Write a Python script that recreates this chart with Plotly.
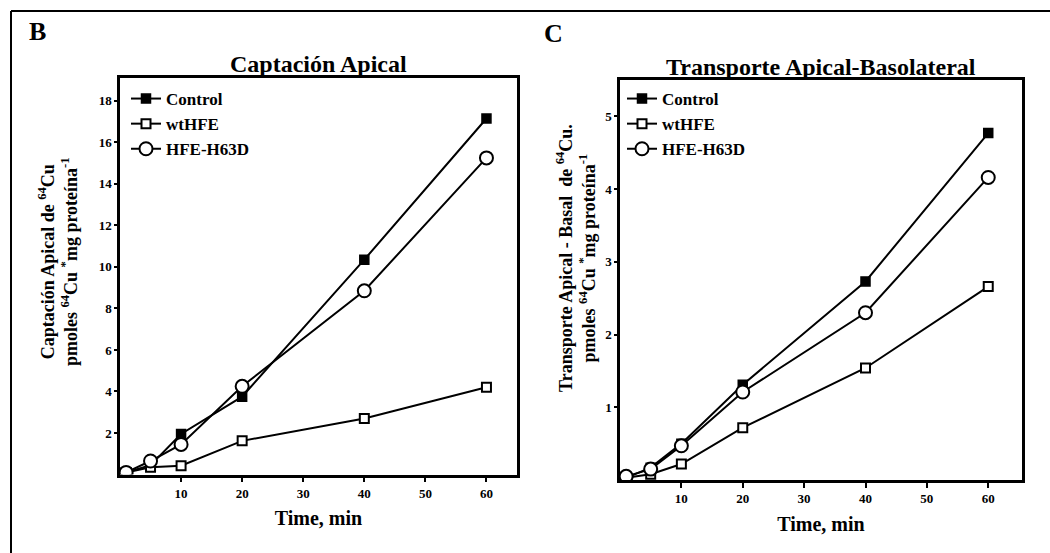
import plotly.graph_objects as go

W, H = 1050, 553
FONT = "Liberation Serif, Times New Roman, serif"

# ---- data ----
times = [1, 5, 10, 20, 40, 60]
series_names = ["Control", "wtHFE", "HFE-H63D"]

control_b = [0.1, 0.45, 1.95, 3.75, 10.35, 17.15]
wthfe_b = [0.1, 0.35, 0.42, 1.62, 2.7, 4.2]
h63d_b = [0.1, 0.65, 1.45, 4.25, 8.85, 15.25]

control_c = [0.03, 0.17, 0.5, 1.31, 2.73, 4.77]
wthfe_c = [0.03, 0.08, 0.22, 0.72, 1.54, 2.66]
h63d_c = [0.05, 0.15, 0.47, 1.21, 2.3, 4.16]

x_ticks = [10, 20, 30, 40, 50, 60]
y_ticks_b = [2, 4, 6, 8, 10, 12, 14, 16, 18]
y_ticks_c = [1, 2, 3, 4, 5]

title_b = "Captación Apical"
title_c = "Transporte Apical-Basolateral"
ytitle_b = "Captación Apical de <sup>64</sup>Cu<br>pmoles <sup>64</sup>Cu <sup>*</sup>mg proteína<sup>-1</sup>"
ytitle_c = "Transporte Apical - Basal  de <sup>64</sup>Cu.<br>pmoles <sup>64</sup>Cu <sup>*</sup>mg proteína<sup>-1</sup>"
xtitle = "Time, min"


def px(x):
    return x / W


def py(y):
    return 1 - y / H


styles = [
    dict(symbol="square", size=9, color="black", line=dict(color="black", width=1.5)),
    dict(symbol="square", size=9, color="white", line=dict(color="black", width=2)),
    dict(symbol="circle", size=13, color="white", line=dict(color="black", width=2)),
]

fig = go.Figure()

for vals, name, st in zip([control_b, wthfe_b, h63d_b], series_names, styles):
    fig.add_trace(go.Scatter(x=times, y=vals, name=name, mode="lines+markers",
                             line=dict(color="black", width=2), marker=st,
                             xaxis="x", yaxis="y", legend="legend"))
for vals, name, st in zip([control_c, wthfe_c, h63d_c], series_names, styles):
    fig.add_trace(go.Scatter(x=times, y=vals, name=name, mode="lines+markers",
                             line=dict(color="black", width=2), marker=st,
                             xaxis="x2", yaxis="y2", legend="legend2"))

tickfont = dict(family=FONT, size=13, color="black", weight="bold")
axis_common = dict(showline=True, linecolor="black", linewidth=2.5, mirror=True,
                   showgrid=False, zeroline=False, ticks="outside", tickcolor="black",
                   tickwidth=2, tickfont=tickfont)
xtitle_font = dict(family=FONT, size=20, color="black", weight="bold")
legend_font = dict(family=FONT, size=17, color="black", weight="bold")

fig.update_layout(
    width=W, height=H,
    margin=dict(l=0, r=0, t=0, b=0),
    paper_bgcolor="white", plot_bgcolor="white",
    font=dict(family=FONT, color="black"),
    xaxis=dict(domain=[px(120), px(517)], range=[0, 65], tickvals=x_ticks, ticklen=5,
               anchor="y", title=dict(text=xtitle, font=xtitle_font, standoff=12),
               **axis_common),
    yaxis=dict(domain=[py(474.5), py(78)], range=[0, 19.1], tickvals=y_ticks_b, ticklen=3,
               anchor="x", **axis_common),
    xaxis2=dict(domain=[px(620), px(1022)], range=[0, 65.5], tickvals=x_ticks, ticklen=5,
                anchor="y2", title=dict(text=xtitle, font=xtitle_font, standoff=12),
                **axis_common),
    yaxis2=dict(domain=[py(480), py(80)], range=[0, 5.5], tickvals=y_ticks_c, ticklen=3,
                anchor="x2", **axis_common),
    legend=dict(x=px(126), y=py(81), xanchor="left", yanchor="top",
                bgcolor="rgba(0,0,0,0)", itemwidth=30, tracegroupgap=0, font=legend_font),
    legend2=dict(x=px(622), y=py(81), xanchor="left", yanchor="top",
                 bgcolor="rgba(0,0,0,0)", itemwidth=30, tracegroupgap=0, font=legend_font),
    showlegend=True,
)

annots = [
    dict(text="B", x=px(37), y=py(32), font=dict(size=26)),
    dict(text="C", x=px(553), y=py(33), font=dict(size=26)),
    dict(text=title_b, x=px(318.5), y=py(64), font=dict(size=24)),
    dict(text=title_c, x=px(821), y=py(67), font=dict(size=24)),
    dict(text=ytitle_b, x=px(58), y=py(262), textangle=-90, font=dict(size=18)),
    dict(text=ytitle_c, x=px(576), y=py(258), textangle=-90, font=dict(size=18)),
]
for a in annots:
    f = dict(family=FONT, color="black", weight="bold")
    f.update(a.pop("font"))
    fig.add_annotation(xref="paper", yref="paper", xanchor="center", yanchor="middle",
                       showarrow=False, font=f, **a)

# outer frame (top and left borders of the scanned figure)
fig.add_shape(type="line", xref="paper", yref="paper", x0=px(11), x1=1, y0=py(11), y1=py(11),
              line=dict(color="black", width=2))
fig.add_shape(type="line", xref="paper", yref="paper", x0=px(11), x1=px(11), y0=py(11), y1=0,
              line=dict(color="black", width=2))

fig.write_html("out.html")
